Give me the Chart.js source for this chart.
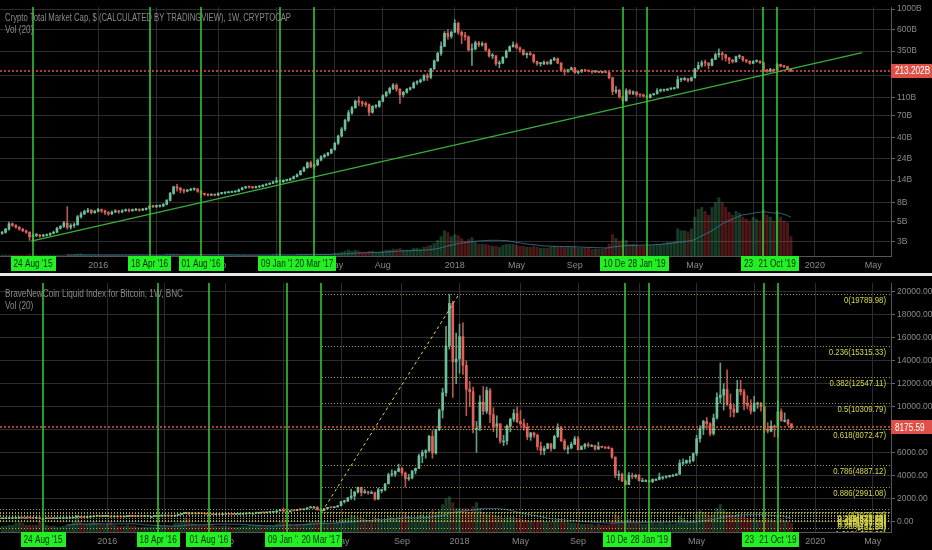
<!DOCTYPE html>
<html>
<head>
<meta charset="utf-8">
<title>Crypto Total Market Cap / BraveNewCoin Liquid Index for Bitcoin</title>
<script src="https://cdn.jsdelivr.net/npm/chart.js@4.4.1/dist/chart.umd.min.js"></script>
<style>
  html, body { margin: 0; padding: 0; background: #000; overflow: hidden; }
  .pane { position: absolute; left: 0; width: 932px; }
  #topPane { top: 0; height: 273px; }
  #sep { position: absolute; left: 0; top: 273px; width: 932px; height: 3px; background: #e8e8e8; }
  #botPane { top: 276px; height: 274px; }
</style>
</head>
<body>
<div class="pane" id="topPane"><canvas id="capChart"></canvas></div>
<div id="sep"></div>
<div class="pane" id="botPane"><canvas id="btcChart"></canvas></div>
<script>
// weeks are counted from the week of 24 Aug 2015 (= week 0)

// ---- Crypto Total Market Cap, weekly, billions USD. first bar = week -9 (22 Jun 2015)
const capFirstWeek = -9;
const capFirstOpen = 3.7;
const capClose = [
  3.8, 4.1, 4.7, 4.5, 4.3, 4.1, 3.95, 3.8, 3.4, 3.5,
  3.55, 3.45, 3.5, 3.55, 3.7, 3.8, 4.2, 4.4, 4.8, 4.3,
  4.5, 4.6, 5.6, 6.0, 6.4, 6.6, 6.2, 6.4, 6.7, 6.5,
  6.2, 6.0, 6.3, 6.4, 6.3, 6.5, 6.6, 6.5, 6.6, 6.7,
  6.6, 6.7, 6.9, 7.3, 7.2, 7.3, 7.3, 7.6, 8.4, 10.0,
  11.8, 11.4, 10.9, 10.6, 10.9, 11.1, 11.2, 10.6, 10.0, 9.8,
  9.6, 9.7, 9.6, 10.0, 10.1, 10.2, 10.3, 10.4, 10.5, 11.0,
  11.5, 11.8, 11.7, 11.6, 11.8, 11.9, 12.3, 12.6, 12.9, 13.3,
  13.6, 13.4, 13.9, 14.0, 14.5, 15.2, 16.0, 17.5, 19.0, 21.5,
  19.5, 20.5, 23.0, 25.0, 26.0, 27.5, 30.0, 35, 42, 50,
  62, 75, 85, 100, 98, 95, 92, 76, 88, 88,
  100, 115, 125, 138, 150, 135, 118, 125, 135, 140,
  158, 163, 170, 190, 182, 225, 275, 330, 395, 545,
  505, 560, 700, 560, 520, 500, 360, 370, 430, 410,
  420, 360, 310, 310, 255, 260, 300, 350, 390, 410,
  380, 360, 320, 330, 320, 270, 255, 255, 265, 255,
  280, 290, 260, 215, 210, 220, 230, 205, 210, 218,
  215, 212, 208, 210, 206, 208, 205, 180, 128, 132,
  112, 102, 130, 122, 126, 118, 117, 114, 110, 118,
  120, 130, 132, 132, 136, 137, 140, 172, 172, 176,
  168, 180, 225, 245, 262, 260, 245, 285, 320, 330,
  320, 295, 280, 268, 305, 305, 280, 272, 258, 272,
  272, 262, 218, 212, 222, 215, 250, 240, 238, 225, 213.202
];
const capHigh = [
  3.9, 4.2, 4.9, 4.8, 4.6, 4.4, 4.2, 4.0, 3.85, 3.65,
  3.7, 3.6, 3.6, 3.65, 3.75, 3.9, 4.3, 4.5, 5.0, 7.2,
  4.7, 4.8, 5.8, 6.3, 6.6, 6.9, 6.7, 6.6, 6.9, 6.8,
  6.6, 6.4, 6.5, 6.7, 6.6, 6.7, 6.8, 6.8, 6.8, 6.9,
  6.8, 6.9, 7.0, 7.4, 7.5, 7.5, 7.5, 7.8, 8.6, 10.3,
  12.0, 12.6, 11.7, 11.2, 11.1, 11.4, 11.5, 11.3, 10.8, 10.1,
  9.9, 9.9, 9.9, 10.2, 10.3, 10.4, 10.5, 10.6, 10.7, 11.2,
  11.7, 12.0, 12.0, 11.9, 12.0, 12.1, 12.5, 12.8, 13.1, 13.6,
  15.0, 13.9, 14.1, 14.3, 14.7, 15.5, 16.3, 17.8, 19.5, 22.0,
  22.5, 21.0, 23.5, 25.8, 27.0, 28.0, 30.5, 36, 43, 52,
  64, 80, 88, 103, 112, 101, 99, 94, 90, 92,
  102, 118, 128, 142, 156, 155, 137, 128, 138, 143,
  162, 168, 175, 195, 200, 228, 280, 340, 440, 570,
  600, 580, 766, 720, 580, 560, 510, 420, 450, 445,
  440, 430, 370, 330, 315, 275, 305, 360, 400, 440,
  430, 390, 365, 335, 345, 325, 272, 265, 275, 272,
  285, 300, 295, 262, 225, 222, 235, 233, 215, 222,
  222, 218, 214, 215, 212, 210, 214, 207, 182, 145,
  135, 114, 137, 134, 130, 128, 120, 120, 116, 120,
  122, 137, 136, 135, 137, 140, 142, 187, 178, 182,
  177, 183, 228, 265, 275, 280, 262, 290, 333, 370,
  345, 322, 300, 285, 310, 320, 305, 285, 275, 275,
  280, 275, 265, 222, 228, 224, 258, 253, 245, 240, 226
];
const capLow = [
  3.6, 3.7, 4.0, 4.4, 4.2, 4.0, 3.85, 3.7, 3.1, 3.05,
  3.4, 3.35, 3.4, 3.45, 3.5, 3.65, 3.75, 4.1, 4.3, 4.1,
  4.1, 4.3, 4.5, 5.4, 5.9, 6.2, 6.0, 6.1, 6.3, 6.2,
  5.9, 5.8, 5.9, 6.2, 6.1, 6.2, 6.4, 6.3, 6.4, 6.5,
  6.4, 6.5, 6.6, 6.8, 7.0, 7.0, 7.1, 7.2, 7.5, 8.3,
  9.8, 10.6, 10.2, 10.1, 10.4, 10.7, 10.8, 10.3, 9.0, 9.5,
  9.4, 9.5, 9.4, 9.5, 9.8, 9.9, 10.1, 10.2, 10.3, 10.4,
  10.9, 11.3, 11.4, 11.3, 11.4, 11.6, 11.8, 12.2, 12.5, 12.8,
  13.0, 12.6, 13.2, 13.6, 13.8, 14.3, 15.0, 15.8, 17.2, 18.8,
  19.0, 18.5, 20.0, 22.5, 24.5, 25.5, 27.0, 29.5, 34, 41,
  48, 60, 72, 84, 90, 88, 87, 70, 74, 84,
  86, 98, 112, 120, 134, 128, 95, 112, 122, 132,
  138, 152, 158, 166, 168, 175, 222, 270, 315, 390,
  470, 480, 560, 530, 420, 460, 350, 245, 360, 390,
  395, 350, 300, 290, 245, 230, 255, 295, 345, 385,
  370, 340, 315, 295, 315, 260, 245, 240, 250, 250,
  252, 275, 255, 212, 192, 206, 218, 200, 198, 205,
  210, 208, 200, 205, 203, 202, 203, 175, 118, 122,
  108, 95, 100, 118, 118, 113, 112, 111, 107, 108,
  116, 120, 126, 128, 130, 133, 135, 138, 163, 168,
  162, 165, 178, 222, 235, 240, 225, 242, 283, 300,
  280, 272, 255, 260, 265, 290, 270, 262, 252, 255,
  265, 258, 205, 205, 207, 210, 210, 235, 232, 222, 210
];
const capVolume = [
  1, 1, 1, 1, 1, 1, 1, 1, 2, 1,
  1, 1, 1, 1, 1, 1, 1, 1, 1, 2,
  1, 1, 2, 2, 1, 1, 1, 1, 1, 1,
  1, 1, 1, 1, 1, 1, 1, 1, 1, 1,
  1, 1, 1, 1, 1, 1, 1, 1, 2, 2,
  2, 2, 1, 1, 1, 1, 1, 1, 2, 1,
  1, 1, 1, 1, 1, 1, 1, 1, 1, 1,
  1, 1, 1, 1, 1, 1, 1, 1, 1, 2,
  2, 2, 1, 1, 1, 1, 2, 2, 2, 2,
  2, 2, 2, 2, 2, 2, 2, 3, 3, 4,
  5, 6, 5, 6, 5, 4, 4, 5, 5, 4,
  4, 5, 6, 6, 7, 7, 8, 6, 6, 6,
  8, 8, 7, 9, 10, 11, 13, 16, 20, 26,
  24, 20, 22, 21, 18, 15, 17, 19, 14, 12,
  12, 12, 11, 10, 10, 9, 11, 12, 12, 12,
  11, 10, 10, 9, 9, 10, 9, 8, 8, 8,
  9, 10, 9, 10, 9, 9, 9, 9, 8, 8,
  8, 8, 7, 7, 7, 7, 8, 12, 22, 18,
  15, 17, 16, 12, 12, 11, 10, 10, 10, 11,
  11, 12, 12, 13, 14, 14, 15, 28, 26, 26,
  25, 28, 40, 48, 50, 46, 42, 50, 55, 60,
  55, 50, 45, 42, 46, 44, 40, 38, 36, 40,
  38, 36, 48, 42, 40, 36, 46, 40, 36, 34, 20
];

// ---- BraveNewCoin Liquid Index for Bitcoin, weekly, USD. first bar = week -12 (01 Jun 2015)
const btcFirstWeek = -12;
const btcFirstOpen = 225;
const btcClose = [
  233, 237, 244, 250, 270, 292, 273, 289, 283, 261,
  264, 228, 228, 240, 230, 232, 234, 240, 247, 263,
  282, 325, 372, 332, 326, 358, 388, 437, 455, 422,
  430, 433, 380, 392, 378, 375, 402, 437, 433, 410,
  414, 410, 416, 420, 420, 427, 450, 455, 460, 455,
  443, 530, 580, 665, 760, 660, 675, 650, 665, 655,
  625, 590, 570, 580, 575, 610, 625, 607, 600, 612,
  617, 640, 655, 700, 700, 705, 740, 735, 765, 775,
  790, 895, 1000, 900, 820, 920, 915, 1030, 1000, 1050,
  1170, 1230, 1230, 1020, 950, 1090, 1200, 1180, 1240, 1350,
  1700, 1750, 2050, 2200, 2550, 2950, 2500, 2550, 2500, 2500,
  1930, 2750, 2750, 3250, 4050, 4100, 4350, 4600, 4200, 3700,
  3780, 4400, 4600, 5700, 6000, 6150, 7400, 5950, 8000, 9700,
  11200, 15300, 19000, 13900, 14150, 16100, 13600, 11500, 11300, 8100,
  8100, 10400, 9600, 11400, 9300, 8200, 8500, 7000, 7000, 8300,
  8900, 9400, 8700, 8500, 8200, 7350, 7700, 7500, 6500, 6150,
  6350, 6750, 6350, 7400, 8200, 7000, 6300, 6400, 6700, 7200,
  6250, 6500, 6700, 6600, 6600, 6300, 6500, 6450, 6400, 6350,
  5600, 4000, 4100, 3500, 3200, 4000, 3900, 4000, 3550, 3550,
  3550, 3450, 3650, 3650, 3850, 3850, 3900, 4000, 4000, 4100,
  5050, 5100, 5300, 5300, 5900, 7200, 8100, 8700, 8500, 7650,
  9000, 10800, 11000, 11500, 10200, 9800, 9500, 11500, 11300, 10300,
  10100, 9600, 10300, 10300, 10000, 8000, 7850, 8300, 8200, 9550,
  8800, 8800, 8500, 8175.59
];
const btcHigh = [
  238, 240, 252, 253, 275, 315, 300, 291, 297, 285,
  270, 268, 235, 247, 242, 236, 238, 241, 248, 266,
  290, 335, 495, 385, 337, 368, 400, 465, 470, 455,
  437, 455, 436, 402, 400, 380, 405, 445, 443, 440,
  420, 418, 418, 425, 424, 428, 452, 468, 466, 463,
  460, 532, 590, 684, 780, 770, 685, 700, 680, 680,
  665, 620, 597, 590, 590, 615, 632, 625, 610, 616,
  622, 642, 660, 715, 740, 750, 745, 750, 770, 780,
  795, 935, 1020, 1150, 835, 930, 925, 1035, 1065, 1055,
  1190, 1280, 1290, 1260, 1120, 1100, 1210, 1220, 1250, 1360,
  1740, 1840, 2060, 2790, 2600, 2980, 2980, 2780, 2600, 2650,
  2550, 2900, 2800, 3300, 4200, 4480, 4400, 4980, 4700, 4300,
  4100, 4400, 4650, 5850, 6200, 6250, 7500, 7900, 8000, 9800,
  11600, 17000, 19790, 19200, 16400, 17200, 17300, 14000, 12200, 11700,
  8700, 10950, 11750, 11700, 11600, 9900, 9200, 8500, 7500, 8400,
  9000, 9750, 9950, 9650, 8900, 8550, 7750, 7780, 7600, 6900,
  6550, 6800, 6780, 7500, 8500, 8250, 7150, 6600, 6900, 7400,
  7400, 6600, 6800, 6850, 6700, 6650, 6900, 6550, 6480, 6560,
  6400, 5600, 4400, 4200, 3600, 4250, 4200, 4100, 4100, 3740,
  3620, 3560, 3700, 3730, 4200, 3900, 3930, 4020, 4080, 4150,
  5350, 5450, 5350, 5650, 5950, 7500, 8350, 8800, 9050, 8600,
  9350, 11200, 13800, 12000, 13200, 11100, 10200, 12300, 12300, 11500,
  10950, 10600, 10900, 10400, 10350, 10050, 8600, 8750, 8400, 10500,
  9800, 9450, 8900, 8500
];
const btcLow = [
  222, 226, 233, 239, 250, 262, 270, 265, 277, 257,
  256, 200, 199, 226, 228, 225, 226, 233, 236, 246,
  262, 281, 325, 305, 314, 320, 355, 388, 430, 415,
  414, 427, 360, 375, 373, 365, 366, 400, 408, 404,
  405, 406, 408, 412, 415, 419, 424, 446, 441, 448,
  436, 440, 525, 575, 660, 550, 620, 630, 640, 645,
  620, 480, 565, 565, 567, 572, 605, 600, 590, 600,
  605, 613, 628, 650, 680, 680, 690, 725, 730, 755,
  765, 790, 895, 760, 760, 815, 890, 910, 940, 980,
  1050, 1150, 1140, 950, 890, 930, 1080, 1160, 1160, 1240,
  1340, 1580, 1700, 1900, 1850, 2450, 2200, 2420, 2330, 2450,
  1840, 1900, 2480, 2650, 3300, 3900, 3900, 4300, 4000, 2980,
  3560, 3690, 4130, 4580, 5100, 5500, 6040, 5500, 5850, 7900,
  9000, 10900, 15000, 10800, 12000, 12900, 12800, 9200, 10000, 7700,
  6000, 7900, 9300, 9400, 8600, 7800, 7300, 6800, 6600, 6700,
  7800, 8700, 8600, 8350, 7950, 7100, 7050, 7300, 6200, 5800,
  5800, 6300, 6100, 6300, 7300, 6950, 6200, 5900, 6300, 6700,
  6200, 6250, 6300, 6450, 6500, 6200, 6250, 6400, 6320, 6300,
  5450, 3800, 3600, 3450, 3150, 3220, 3700, 3730, 3500, 3450,
  3480, 3380, 3350, 3560, 3600, 3650, 3750, 3820, 3950, 3970,
  4100, 4900, 5000, 5050, 5200, 5700, 6900, 7550, 8100, 7450,
  7500, 8900, 10300, 9700, 10100, 9100, 9100, 9500, 11000, 9700,
  9800, 9350, 9580, 9850, 9600, 7750, 7700, 7800, 7350, 7300,
  8700, 8650, 8320, 8050
];
const btcVolume = [
  6, 6, 7, 7, 9, 10, 9, 7, 7, 7,
  7, 11, 9, 7, 6, 6, 5, 5, 6, 7,
  8, 10, 16, 11, 8, 8, 9, 10, 9, 8,
  7, 8, 10, 7, 6, 6, 6, 7, 6, 6,
  5, 5, 5, 5, 5, 5, 6, 6, 6, 6,
  6, 9, 9, 11, 14, 13, 9, 8, 7, 7,
  7, 10, 8, 6, 6, 6, 6, 6, 5, 5,
  5, 6, 6, 7, 7, 7, 7, 6, 6, 6,
  6, 8, 10, 14, 10, 8, 7, 8, 8, 8,
  9, 10, 10, 12, 11, 10, 9, 9, 9, 10,
  13, 13, 14, 17, 16, 15, 15, 13, 12, 12,
  15, 14, 12, 13, 16, 15, 14, 15, 15, 20,
  16, 14, 14, 17, 18, 16, 18, 22, 20, 22,
  28, 34, 36, 30, 24, 24, 24, 24, 20, 26,
  30, 24, 20, 18, 18, 17, 16, 16, 14, 15,
  15, 15, 14, 13, 12, 12, 11, 11, 12, 12,
  11, 10, 10, 11, 12, 11, 10, 10, 9, 9,
  9, 8, 8, 8, 8, 7, 8, 7, 7, 7,
  12, 18, 16, 12, 12, 13, 10, 9, 9, 8,
  8, 8, 9, 8, 9, 9, 8, 9, 8, 9,
  16, 14, 12, 11, 12, 18, 22, 20, 18, 17,
  18, 24, 28, 22, 20, 18, 16, 18, 16, 16,
  14, 13, 14, 12, 12, 16, 14, 13, 12, 16,
  13, 12, 11, 9
];

// ---- marked dates (green verticals) shared by both panes
const eventWeeks = [0, 34, 49, 72, 82, 172, 179, 213, 217];
const eventLabels = ["24 Aug '15", "18 Apr '16", "01 Aug '16", "09 Jan '17", "20 Mar '17",
                     "10 Dec '18", "28 Jan '19", "23 Sep '19", "21 Oct '19"];

// ---- time axis labels
const capTickWeeks = [19, 36, 54, 71, 88, 102, 123, 141, 158, 176, 193, 210, 228, 245];
const capTickLabels = ['2016', 'May', 'Sep', '2017', 'May', 'Aug', '2018', 'May', 'Sep', '2019', 'May', 'Sep', '2020', 'May'];
const btcTickWeeks = [19, 36, 54, 71, 88, 106, 123, 141, 158, 176, 193, 210, 228, 245];
const btcTickLabels = ['2016', 'May', 'Sep', '2017', 'May', 'Sep', '2018', 'May', 'Sep', '2019', 'May', 'Sep', '2020', 'May'];

// ---- price axis labels
const capAxisTicks = [3, 5, 8, 14, 24, 40, 70, 110, 190, 350, 600, 1000];
const btcAxisTicks = [0, 2000, 4000, 6000, 8000, 10000, 12000, 14000, 16000, 18000, 20000];

// ---- drawings
const capTrendWeeks = [-0.5, 241.8];
const capTrendValues = [3.05, 336];
const fibWeeks = [82.4, 122.8];
const fibPrices = [829.6, 19789.98];
const fibRatios = [0, 0.236, 0.382, 0.5, 0.618, 0.786, 0.886, 1];
const fib2Prices = [21.84, 1076.74];
const fib2Ratios = [0, 0.236, 0.382, 0.5, 0.618, 0.786, 0.886, 1, 1.618];

const UP = '#6dbf9b', DOWN = '#e2625a';
const UP_WICK = '#5f9e85', DOWN_WICK = '#b9574f';
const UP_VOL = 'rgba(60,150,100,0.38)', DOWN_VOL = 'rgba(200,60,60,0.38)';
const GRID = '#2d2d2d';
const TXT = '#8a8a8a';
const FONT = "'Liberation Sans',sans-serif";
const SQUEEZE = 0.82; // the screenshot's UI font is narrower than anything installed

function squeezedText(ctx, text, x, y, width) {
  const k = width ? width / ctx.measureText(text).width : SQUEEZE;
  ctx.save();
  ctx.translate(x, y);
  ctx.scale(k, 1);
  ctx.fillText(text, 0, 0);
  ctx.restore();
}

function candles(first, open0, close, high, low, volume) {
  const bodies = [], wicks = [], vols = [], up = [];
  close.forEach((c, i) => {
    const o = i ? close[i - 1] : open0;
    bodies.push({ x: first + i, y: [o, c] });
    wicks.push({ x: first + i, y: [low[i], high[i]] });
    vols.push({ x: first + i, y: volume[i] });
    up.push(c >= o);
  });
  return { bodies, wicks, vols, up };
}

function sma(points, n) {
  return points.map((p, i) => {
    if (i < n - 1) return { x: p.x, y: null };
    let s = 0;
    for (let k = i - n + 1; k <= i; k++) s += points[k].y;
    return { x: p.x, y: s / n };
  });
}

function overlay(o) {
  return {
    id: 'overlay',
    afterDatasetsDraw(chart) {
      const { ctx, chartArea: a, scales: { x, y } } = chart;
      ctx.save();
      ctx.beginPath();
      ctx.rect(a.left, a.top, a.right - a.left, a.bottom - a.top);
      ctx.clip();

      // fibonacci levels
      ctx.font = '9.5px ' + FONT;
      ctx.textAlign = 'right';
      ctx.textBaseline = 'top';
      (o.fibs || []).forEach(f => {
        const x0 = Math.max(a.left, x.getPixelForValue(f.from));
        f.ratios.forEach(r => {
          const v = f.high - r * (f.high - f.low);
          const py = Math.round(y.getPixelForValue(v)) + 0.5;
          if (py < a.top || py > a.bottom) return;
          ctx.strokeStyle = 'rgba(205,205,70,0.8)';
          ctx.lineWidth = 1;
          ctx.setLineDash([1, 2]);
          ctx.beginPath();
          ctx.moveTo(x0, py);
          ctx.lineTo(a.right, py);
          ctx.stroke();
          ctx.fillStyle = '#d8d84c';
          squeezedText(ctx, r + '(' + v.toFixed(2) + ')', a.right - 5, py + 1);
        });
      });

      // marked dates
      ctx.setLineDash([]);
      ctx.strokeStyle = '#36d036';
      ctx.lineWidth = 1.5;
      eventWeeks.forEach(w => {
        const px = Math.round(x.getPixelForValue(w));
        ctx.beginPath();
        ctx.moveTo(px, a.top);
        ctx.lineTo(px, a.bottom + 2);
        ctx.stroke();
      });

      // last price line
      const py = Math.round(y.getPixelForValue(o.last));
      ctx.strokeStyle = '#e0564c';
      ctx.lineWidth = 1.5;
      ctx.setLineDash([2, 2]);
      ctx.beginPath();
      ctx.moveTo(a.left, py);
      ctx.lineTo(a.right, py);
      ctx.stroke();
      ctx.restore();
    },
    afterDraw(chart) {
      const { ctx, chartArea: a, scales: { x, y } } = chart;
      ctx.save();
      // titles
      ctx.font = '10px ' + FONT;
      ctx.fillStyle = TXT;
      ctx.textAlign = 'left';
      ctx.textBaseline = 'middle';
      squeezedText(ctx, o.title, 5, a.top + 11, o.titleWidth);
      squeezedText(ctx, 'Vol (20)', 5, a.top + 23);

      // date boxes on the time axis
      ctx.font = '10px ' + FONT;
      ctx.textAlign = 'center';
      eventWeeks.forEach((w, i) => {
        const px = x.getPixelForValue(w);
        const tw = ctx.measureText(eventLabels[i]).width * SQUEEZE + 6;
        ctx.fillStyle = '#22f022';
        ctx.fillRect(Math.round(px - tw / 2), a.bottom, Math.round(tw), 15);
        ctx.fillStyle = '#0b2a0b';
        squeezedText(ctx, eventLabels[i], px, a.bottom + 8);
      });

      // last price tag
      const py = y.getPixelForValue(o.last);
      ctx.fillStyle = '#df5148';
      ctx.fillRect(a.right, Math.round(py - 7), chart.width - a.right, 14);
      ctx.fillStyle = '#fff';
      ctx.textAlign = 'left';
      squeezedText(ctx, o.lastText, a.right + 4, py + 0.5);
      ctx.restore();
    }
  };
}

function makeChart(id, o) {
  const c = candles(o.first, o.open0, o.close, o.high, o.low, o.volume);
  const tickMap = {};
  o.tickWeeks.forEach((w, i) => { tickMap[w] = o.tickLabels[i]; });
  const lineSets = (o.lines || []).map(l => ({
    type: 'line',
    data: l.weeks.map((w, i) => ({ x: w, y: l.values[i] })),
    borderColor: l.color,
    borderWidth: l.width,
    borderDash: l.dash || [],
    pointRadius: 0,
    yAxisID: 'y',
    order: 0
  }));

  return new Chart(document.getElementById(id), {
    type: 'bar',
    data: {
      datasets: lineSets.concat([
        {
          data: c.bodies, yAxisID: 'y', order: 1, grouped: false,
          barThickness: 2, minBarLength: 1, borderWidth: 0,
          backgroundColor: ctx => c.up[ctx.dataIndex] ? UP : DOWN
        },
        {
          data: c.wicks, yAxisID: 'y', order: 2, grouped: false,
          barThickness: 1, borderWidth: 0,
          backgroundColor: ctx => c.up[ctx.dataIndex] ? UP_WICK : DOWN_WICK
        },
        {
          type: 'line', data: sma(c.vols, 20), yAxisID: 'yv', order: 3,
          borderColor: 'rgba(60,130,160,0.75)', borderWidth: 1, pointRadius: 0, spanGaps: false
        },
        {
          data: c.vols, yAxisID: 'yv', order: 4, grouped: false,
          barThickness: 2.4, borderWidth: 0,
          backgroundColor: ctx => c.up[ctx.dataIndex] ? UP_VOL : DOWN_VOL
        }
      ])
    },
    options: {
      responsive: true,
      maintainAspectRatio: false,
      animation: false,
      devicePixelRatio: 1,
      layout: { padding: { top: o.padTop, left: 0, right: 0, bottom: 0 } },
      plugins: { legend: { display: false }, tooltip: { enabled: false } },
      scales: {
        x: {
          type: 'linear', min: o.xMin, max: o.xMax, offset: false,
          grid: { color: GRID, drawTicks: false, offset: false },
          border: { color: '#555' },
          ticks: {
            color: TXT, font: { family: FONT, size: 9 }, padding: 4,
            autoSkip: false, maxRotation: 0,
            callback: v => tickMap[v] || ''
          },
          afterBuildTicks: s => { s.ticks = o.tickWeeks.map(v => ({ value: v })); },
          afterFit: s => { s.height = o.axisH; }
        },
        y: {
          type: o.yType, position: 'right', min: o.yMin, max: o.yMax,
          grid: { color: GRID, tickLength: 4, tickColor: '#666' },
          border: { color: '#555' },
          ticks: { color: TXT, font: { family: FONT, size: 8.5 }, padding: 2, callback: o.yFmt },
          afterBuildTicks: s => { s.ticks = o.yTicks.map(v => ({ value: v })); },
          afterFit: s => { s.width = 41; }
        },
        yv: { type: 'linear', display: false, min: 0, max: o.volMax }
      }
    },
    plugins: [overlay(o)]
  });
}

makeChart('capChart', {
  first: capFirstWeek, open0: capFirstOpen,
  close: capClose, high: capHigh, low: capLow, volume: capVolume, volMax: 256,
  xMin: -9.62, xMax: 250.2, padTop: 0, axisH: 17,
  yType: 'logarithmic', yMin: 2.1, yMax: 1050, yTicks: capAxisTicks, yFmt: v => v + 'B',
  tickWeeks: capTickWeeks, tickLabels: capTickLabels,
  lines: [{ weeks: capTrendWeeks, values: capTrendValues, color: '#3aae3a', width: 1.3 }],
  title: 'Crypto Total Market Cap, $ (CALCULATED BY TRADINGVIEW), 1W, CRYPTOCAP', titleWidth: 286,
  last: capClose[capClose.length - 1], lastText: '213.202B'
});

makeChart('btcChart', {
  first: btcFirstWeek, open0: btcFirstOpen,
  close: btcClose, high: btcHigh, low: btcLow, volume: btcVolume, volMax: 254,
  xMin: -12.7, xMax: 250.4, padTop: 2, axisH: 18,
  yType: 'linear', yMin: -940, yMax: 20770, yTicks: btcAxisTicks, yFmt: v => v.toFixed(2),
  tickWeeks: btcTickWeeks, tickLabels: btcTickLabels,
  lines: [{ weeks: fibWeeks, values: fibPrices, color: '#d8d84c', width: 1, dash: [3, 3] }],
  fibs: [
    { from: fibWeeks[0], low: fibPrices[0], high: fibPrices[1], ratios: fibRatios },
    { from: -20, low: fib2Prices[0], high: fib2Prices[1], ratios: fib2Ratios }
  ],
  title: 'BraveNewCoin Liquid Index for Bitcoin, 1W, BNC', titleWidth: 178,
  last: btcClose[btcClose.length - 1], lastText: '8175.59'
});
</script>
</body>
</html>
